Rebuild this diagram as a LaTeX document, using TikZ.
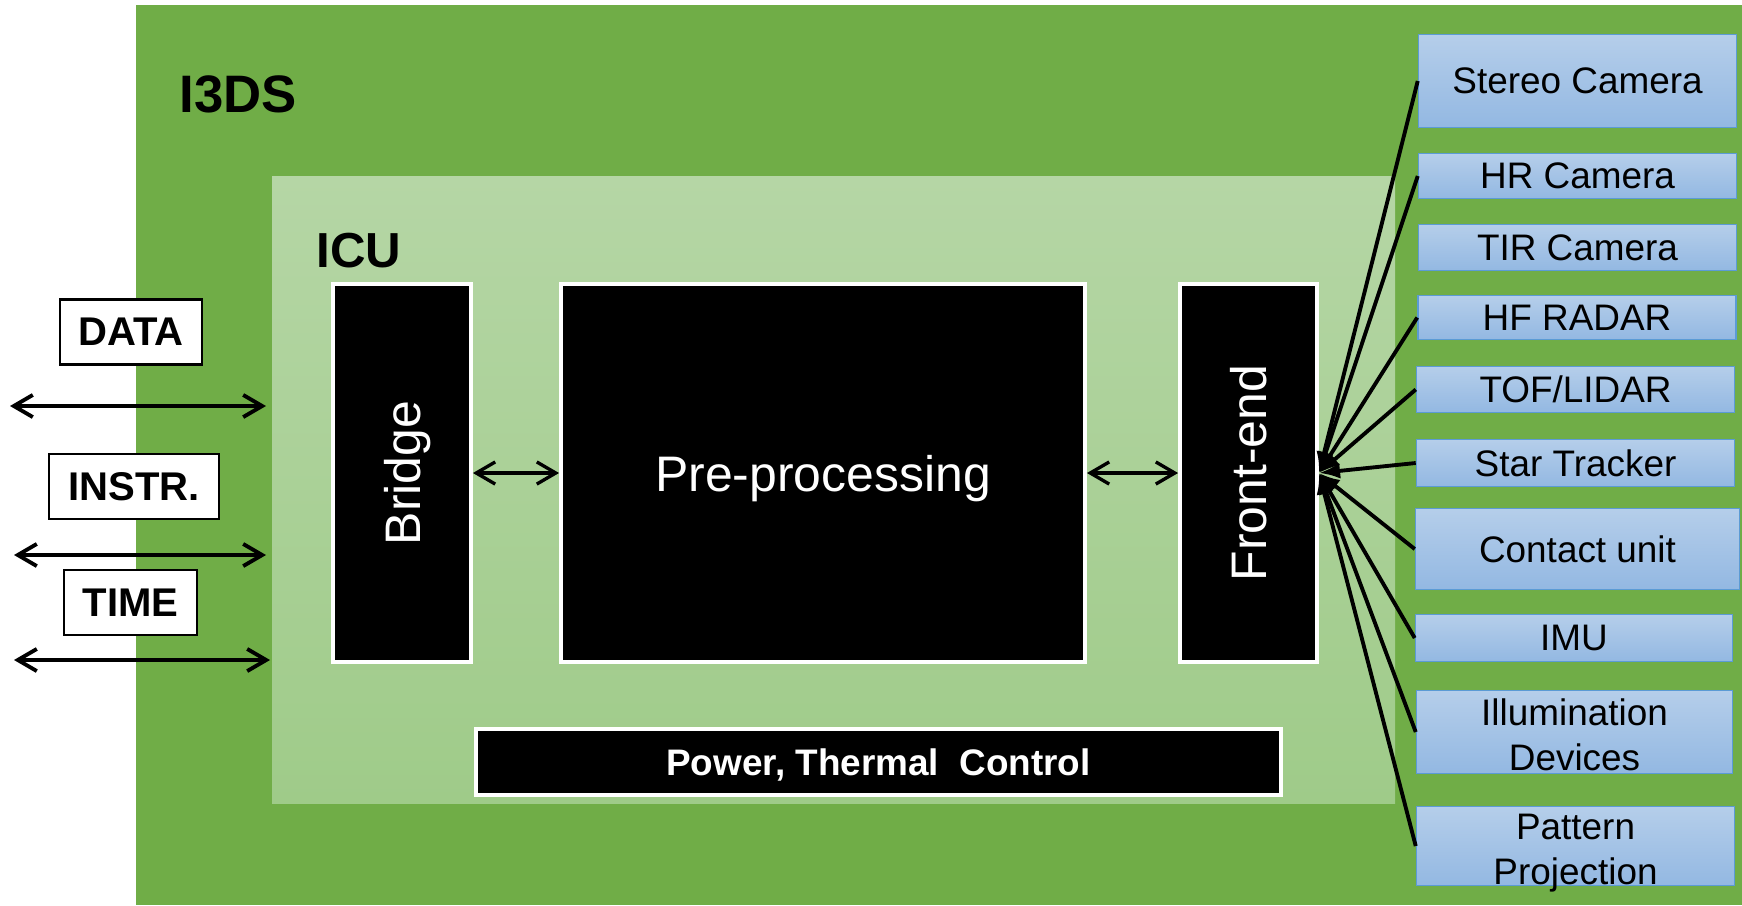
\documentclass[tikz,border=0pt]{standalone}
\usepackage{fontspec}
\setmainfont{Liberation Sans}
\usetikzlibrary{arrows.meta,positioning}
\definecolor{isgreen}{RGB}{112,173,71}
\definecolor{icutop}{RGB}{181,214,165}
\definecolor{icubot}{RGB}{159,203,137}
\definecolor{sentop}{RGB}{181,206,234}
\definecolor{senbot}{RGB}{147,184,226}
\definecolor{senedge}{RGB}{91,155,213}
\tikzset{
  blk/.style={draw=white, line width=1.1pt, fill=black, text=white, inner sep=0pt,
              text depth=0pt, font=\fontsize{14.2}{17}\selectfont},
  tagbox/.style={draw=black, line width=0.6pt, fill=white, inner sep=0pt,
                 font=\fontsize{11.4}{13}\selectfont\bfseries, minimum height=0.65cm},
  sensor/.style={draw=senedge, line width=0.45pt, top color=sentop, bottom color=senbot,
                 inner sep=0pt, align=center, font=\fontsize{10.5}{12.8}\selectfont,
                 minimum width=3.18cm, minimum height=#1},
  bus/.style={{Straight Barb[length=5.4pt,width=6.3pt]}-{Straight Barb[length=5.4pt,width=6.3pt]},
              line width=1.1pt},
  link/.style={{Straight Barb[length=5.4pt,width=6.3pt]}-{Straight Barb[length=5.4pt,width=6.3pt]},
               line width=0.95pt},
  feed/.style={-{Latex[length=6pt,width=4.5pt]}, line width=1.1pt},
}

\begin{document}
\begin{tikzpicture}
  \useasboundingbox (0,0) rectangle (17.42,9.05);
  % I3DS frame
  \fill[isgreen] (1.36,0) rectangle (17.42,9.00);
  \node[font=\fontsize{15}{18}\selectfont\bfseries, anchor=base west, inner sep=0pt] (i3ds) at (1.79,7.93) {I3DS};

  % ICU frame
  \shade[top color=icutop, bottom color=icubot] (2.72,1.02) rectangle (13.95,7.29);
  \node[font=\fontsize{14}{17}\selectfont\bfseries, anchor=base west, inner sep=0pt] (icu) at (3.16,6.38) {ICU};

  % ICU blocks
  \node[blk, minimum width=1.38cm, minimum height=3.78cm] (bridge) at (4.02,4.32) {\rotatebox{90}{\raisebox{0pt}[\height][0pt]{Bridge}}};
  \node[blk, minimum width=5.24cm, minimum height=3.78cm] (pre) at (8.23,4.32) {Pre-processing};
  \node[blk, minimum width=1.37cm, minimum height=3.78cm] (front) at (12.485,4.32) {\rotatebox{90}{Front-end}};
  \node[blk, minimum width=8.05cm, minimum height=0.66cm, font=\fontsize{10.5}{12}\selectfont\bfseries] (power) at (8.785,1.43) {Power, Thermal\ \ Control};
  \draw[link] (bridge) -- (pre);
  \draw[link] (pre) -- (front);

  % External interfaces
  \node[tagbox, minimum width=1.42cm] (data) at (1.31,5.73) {DATA};
  \node[tagbox, minimum width=1.70cm] (instr) at (1.34,4.185) {INSTR.};
  \node[tagbox, minimum width=1.33cm] (time) at (1.305,3.025) {TIME};
  \coordinate (data l) at (0.10,4.99);
  \coordinate (data r) at (2.66,4.99);
  \coordinate (instr l) at (0.14,3.50);
  \coordinate (instr r) at (2.66,3.50);
  \coordinate (time l) at (0.14,2.45);
  \coordinate (time r) at (2.70,2.45);
  \draw[bus] (data l) -- (data r);
  \draw[bus] (instr l) -- (instr r);
  \draw[bus] (time l) -- (time r);

  % Sensors
  \node[sensor=0.93cm] (stereo) at (15.775,8.24) {Stereo Camera};
  \node[sensor=0.45cm] (hr) at (15.775,7.29) {HR Camera};
  \node[sensor=0.46cm] (tir) at (15.775,6.575) {TIR Camera};
  \node[sensor=0.44cm] (hfradar) at (15.77,5.875) {HF RADAR};
  \node[sensor=0.46cm] (tof) at (15.755,5.155) {TOF/LIDAR};
  \node[sensor=0.47cm] (star) at (15.755,4.42) {Star Tracker};
  \node[sensor=0.81cm, minimum width=3.24cm] (contact) at (15.775,3.56) {Contact unit};
  \node[sensor=0.47cm, minimum width=3.17cm] (imu) at (15.74,2.67) {IMU};
  \node[sensor=0.83cm, minimum width=3.16cm, text height=21.8pt] (illum) at (15.745,1.73) {Illumination\\Devices};
  \node[sensor=0.79cm, text height=22.1pt, text depth=0pt] (pattern) at (15.755,0.59) {Pattern\\Projection};

  \foreach \s in {stereo,hr,hfradar,tof,star,contact,imu,illum,pattern}
    \draw[feed] (\s.west) -- (front.east);
\end{tikzpicture}
\end{document}
